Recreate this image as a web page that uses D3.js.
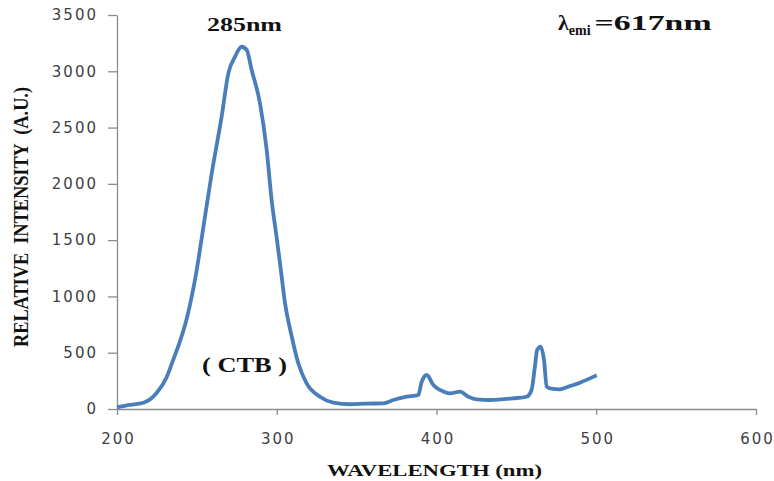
<!DOCTYPE html>
<html>
<head>
<meta charset="utf-8">
<script src="https://cdn.jsdelivr.net/npm/d3@7"></script>
<style>
  body { margin: 0; background: #fff; }
  .tick text { font-family: "DejaVu Sans", sans-serif; font-size: 15px; fill: #404040; letter-spacing: 2px; }
  .serif { font-family: "Liberation Serif", "Times New Roman", serif; font-weight: bold; fill: #111; }
</style>
</head>
<body>
<svg id="chart" width="774" height="481"></svg>
<script>
// excitation spectrum
var wavelength = [200, 206.7, 216.5, 224.8, 231, 235, 239.4, 243.6, 249.9, 253, 259.3, 265.5, 269.7, 273.9, 278, 281.2, 284.3, 289.5, 293.7, 296.8, 300, 302, 305.2, 309.4, 313.5, 318.7, 327.1, 335.4, 345.8, 356, 366.7, 373, 381.4, 388.6, 390.7, 393.9, 398, 402.2, 408.5, 414.7, 420, 425.2, 433.5, 448, 456.4, 459.5, 461.6, 463, 465.2, 467.3, 469, 471, 477.3, 483.6, 489.8, 496, 500.3];
var intensity  = [15, 35, 56, 142, 280, 430, 600, 800, 1235, 1516, 2094, 2597, 2982, 3130, 3218, 3189, 3011, 2716, 2301, 1857, 1516, 1300, 939, 642, 406, 228, 109, 56, 42, 48, 50, 80, 109, 124, 240, 302, 213, 169, 139, 154, 109, 86, 80, 95, 109, 169, 376, 524, 553, 435, 198, 184, 175, 204, 234, 272, 299];
var xTicks = [200, 300, 400, 500, 600];
var yTicks = [0, 500, 1000, 1500, 2000, 2500, 3000, 3500];

var svg = d3.select("#chart");

var x = d3.scaleLinear().domain([200, 600]).range([117, 756]);
var y = d3.scaleLinear().domain([0, 3500]).range([409, 15]);

var xAxis = d3.axisBottom(x).tickValues(xTicks).tickFormat(d3.format("d")).tickSize(6).tickPadding(18).tickSizeOuter(0);
var yAxis = d3.axisLeft(y).tickValues(yTicks).tickFormat(d3.format("d")).tickSize(9).tickPadding(12).tickSizeOuter(0);

var gx = svg.append("g").attr("transform", "translate(0,409)").call(xAxis);
var gy = svg.append("g").attr("transform", "translate(117,0)").call(yAxis);

[gx, gy].forEach(function(g) {
  g.selectAll("path, line").attr("stroke", "#8c8c8c").attr("stroke-width", 1.3);
});
gx.selectAll("text").attr("dx", 1);
gy.selectAll("text").attr("dx", 2);

var line = d3.line()
  .x(function(d) { return x(d[0]); })
  .y(function(d) { return y(d[1]); })
  .curve(d3.curveMonotoneX);

svg.append("path")
  .datum(d3.zip(wavelength, intensity))
  .attr("d", line)
  .attr("fill", "none")
  .attr("stroke", "#4a7ebb")
  .attr("stroke-width", 3.8)
  .attr("stroke-linejoin", "round");

// axis titles
svg.append("text").attr("class", "serif")
  .attr("transform", "translate(28,217) rotate(-90)")
  .attr("text-anchor", "middle")
  .attr("font-size", 20)
  .attr("textLength", 260).attr("lengthAdjust", "spacingAndGlyphs")
  .style("white-space", "pre")
  .text("RELATIVE  INTENSITY  (A.U.)");

svg.append("text").attr("class", "serif")
  .attr("x", 327).attr("y", 476)
  .attr("font-size", 17)
  .attr("textLength", 215).attr("lengthAdjust", "spacingAndGlyphs")
  .text("WAVELENGTH (nm)");

// annotations
svg.append("text").attr("class", "serif")
  .attr("x", 207).attr("y", 31)
  .attr("font-size", 19)
  .attr("textLength", 75).attr("lengthAdjust", "spacingAndGlyphs")
  .text("285nm");

svg.append("text").attr("class", "serif")
  .attr("x", 202).attr("y", 372)
  .attr("font-size", 20)
  .attr("textLength", 85).attr("lengthAdjust", "spacingAndGlyphs")
  .style("white-space", "pre")
  .text("( CTB )");

var lab = svg.append("text").attr("class", "serif")
  .attr("x", 558).attr("y", 30)
  .attr("font-size", 22);
lab.append("tspan").text("λ");
lab.append("tspan").attr("font-size", 14).attr("dy", 5).text("emi");
lab.append("tspan").attr("dy", -5).attr("dx", 4).attr("textLength", 117).attr("lengthAdjust", "spacingAndGlyphs").text("=617nm");
</script>
</body>
</html>
